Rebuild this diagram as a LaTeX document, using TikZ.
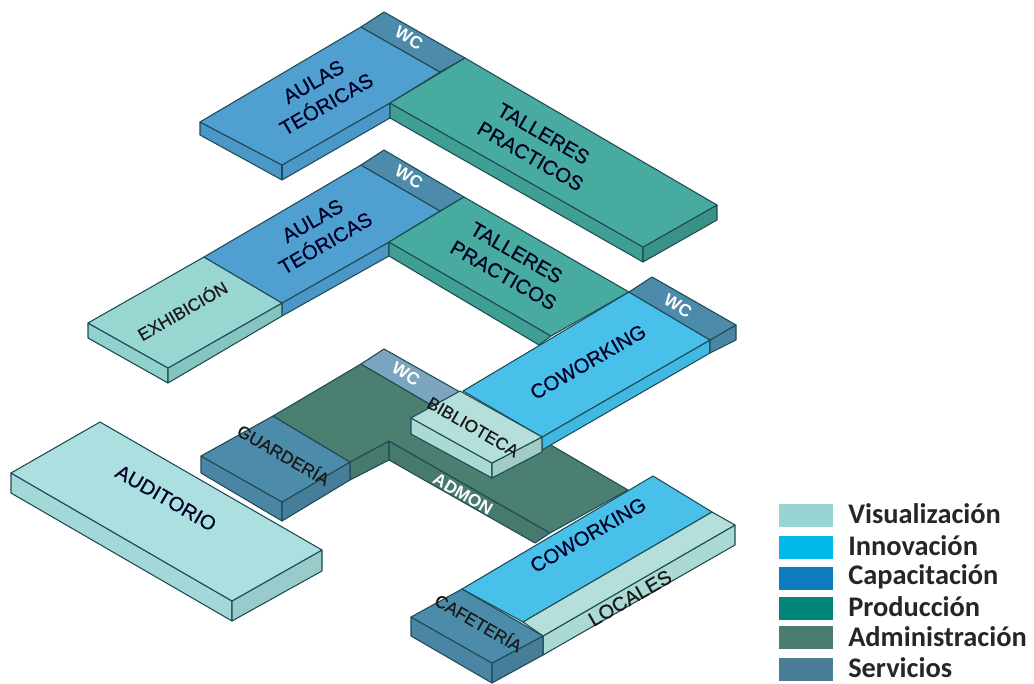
\documentclass[tikz,border=0pt]{standalone}
\usepackage{fontspec}
\setmainfont{Liberation Sans}
\newfontfamily\legendfont{Carlito}
\newfontfamily\medfont[FakeBold=0.5]{Liberation Sans}
\definecolor{eline}{HTML}{1E4B55}
\definecolor{aulaT}{HTML}{4F9FD0}
\definecolor{aulaS}{HTML}{4A97C8}
\definecolor{tallT}{HTML}{47AB9F}
\definecolor{tallS}{HTML}{3F9F93}
\definecolor{exhT}{HTML}{98D6D1}
\definecolor{exhS}{HTML}{8FD1CC}
\definecolor{cowT}{HTML}{48C0EA}
\definecolor{cowS}{HTML}{40B8E2}
\definecolor{wcT}{HTML}{4D8BAB}
\definecolor{wcS}{HTML}{4A85A3}
\definecolor{admT}{HTML}{4B7F72}
\definecolor{admS}{HTML}{47796C}
\definecolor{wcG}{HTML}{7CA6BF}
\definecolor{audT}{HTML}{ACDFE0}
\definecolor{audS}{HTML}{A3D8D8}
\definecolor{bibT}{HTML}{B4DFDA}
\definecolor{bibS}{HTML}{ABD9D3}
\definecolor{legA}{HTML}{97D4D2}
\definecolor{legB}{HTML}{00B9E8}
\definecolor{legC}{HTML}{107CC0}
\definecolor{legD}{HTML}{00877A}
\definecolor{legE}{HTML}{4A7C70}
\definecolor{legF}{HTML}{4A7E98}
\tikzset{
 face/.style={draw=eline,line width=0.8pt,line join=round},
 lab/.style={font=\medfont\fontsize{15.2}{19.5}\selectfont,align=center,text=black!85!blue,inner sep=0pt},
 labw/.style={font=\bfseries\fontsize{13}{14}\selectfont,text=white,inner sep=0pt},
 labs/.style={font=\medfont\fontsize{13}{15}\selectfont,text=black!90,inner sep=0pt},
 swatch/.style={minimum width=40.5pt,minimum height=16.8pt,inner sep=0pt,anchor=north west},
 legtext/.style={font=\legendfont\bfseries\fontsize{21.3}{22}\selectfont,text=black!85,anchor=west,inner sep=0pt}
}
\begin{document}
\begin{tikzpicture}[x=0.75pt,y=-0.75pt]
\useasboundingbox (0,0) rectangle (1034,684);
% --- Top level
\fill[face,fill=aulaS] (200,122)--(282,165)--(390,103)--(390,118)--(282,180)--(200,135)--cycle;
\draw[face] (282,165)--(282,180);
\fill[face,fill=tallS] (390,103)--(643,247)--(643,262)--(390,118)--cycle;
\fill[face,fill=tallS!92!black] (643,247)--(717,205)--(717,220)--(643,262)--cycle;
\fill[face,fill=aulaT] (200,122)--(361,27)--(440,72)--(390,103)--(282,165)--cycle;
\fill[face,fill=wcT] (361,27)--(384,12)--(465,58)--(440,72)--cycle;
\fill[face,fill=tallT] (390,103)--(465,58)--(717,205)--(643,247)--cycle;
\node[lab,rotate=30] (a3) at (320,93) {AULAS\\TEÓRICAS};
\node[lab,rotate=-30] (t3) at (537,145) {TALLERES\\PRACTICOS};
\node[labw,rotate=-30] (w3) at (409,38) {WC};
% --- Second level
\fill[face,fill=aulaS] (282,303)--(389,242)--(389,256)--(282,316)--cycle;
\fill[face,fill=exhS] (88,323)--(168,368)--(168,383)--(88,338)--cycle;
\fill[face,fill=exhS!94!black] (168,368)--(282,303)--(282,316)--(168,383)--cycle;
\fill[face,fill=tallS] (389,242)--(551,336)--(539,345)--(389,256)--cycle;
\fill[face,fill=exhT] (88,323)--(204,257)--(282,303)--(168,368)--cycle;
\fill[face,fill=aulaT] (204,257)--(361,165)--(440,211)--(389,242)--(282,303)--cycle;
\fill[face,fill=wcT] (361,165)--(384,150)--(464,197)--(440,211)--cycle;
\fill[face,fill=tallT] (389,242)--(464,197)--(629,292)--(551,336)--cycle;
\node[lab,rotate=30] (a2) at (319,232) {AULAS\\TEÓRICAS};
\node[lab,rotate=-30] (t2) at (510,264) {TALLERES\\PRACTICOS};
\node[labw,rotate=-30] (w2) at (409,177) {WC};
\node[labs,rotate=30] (ex) at (182,310) {EXHIBICIÓN};
% --- Ground: admin
\fill[face,fill=admS] (350,462)--(389,441)--(389,460)--(350,480)--cycle;
\fill[face,fill=admS] (389,441)--(550,533)--(535,543)--(389,460)--cycle;
\fill[face,fill=wcS] (201,456)--(282,502)--(282,521)--(201,473)--cycle;
\fill[face,fill=wcS!94!black] (282,502)--(350,462)--(350,480)--(282,521)--cycle;
\fill[face,fill=wcT] (201,456)--(273,416)--(350,462)--(282,502)--cycle;
\fill[face,fill=admT] (273,416)--(361,364)--(433,406)--(460,392)--(628,490)--(550,533)--(389,441)--(350,462)--cycle;
\fill[face,fill=wcG] (361,364)--(384,349)--(460,392)--(433,406)--cycle;
\node[labw,rotate=-30] (wg) at (406,374) {WC};
\node[labw,rotate=-30] (ad) at (463,494) {ADMON};
\node[labs,rotate=-30] (gu) at (284,454) {GUARDERÍA};
% --- Upper coworking
\fill[face,fill=cowS] (542,437)--(710,340)--(710,353)--(542,450)--cycle;
\fill[face,fill=wcS] (710,340)--(736,325)--(736,340)--(710,353)--cycle;
\fill[face,fill=cowT] (463,391)--(629,292)--(710,340)--(542,437)--cycle;
\fill[face,fill=wcT] (629,292)--(652,277)--(736,325)--(710,340)--cycle;
\node[lab,rotate=30] (c2) at (588,362) {COWORKING};
\node[labw,rotate=-30] (w4) at (678,306) {WC};
% --- Biblioteca
\fill[face,fill=bibS] (411,418)--(492,463)--(492,478)--(411,434)--cycle;
\fill[face,fill=bibS!94!black] (492,463)--(542,437)--(542,452)--(492,478)--cycle;
\fill[face,fill=bibT] (411,418)--(460,391)--(542,437)--(492,463)--cycle;
\node[labs,rotate=-30] (bi) at (473,427) {BIBLIOTECA};
% --- Lower coworking
\fill[face,fill=bibS] (543,636)--(735,525)--(735,545)--(543,655)--cycle;
\fill[face,fill=wcS] (411,617)--(492,663)--(492,683)--(411,636)--cycle;
\fill[face,fill=wcS!94!black] (492,663)--(543,636)--(543,655)--(492,683)--cycle;
\fill[face,fill=cowT] (462,589)--(653,476)--(712,512)--(523,622)--cycle;
\fill[face,fill=bibT] (523,622)--(712,512)--(735,525)--(543,636)--cycle;
\fill[face,fill=wcT] (411,617)--(462,589)--(543,636)--(492,663)--cycle;
\node[lab,rotate=30] (c1) at (588,535) {COWORKING};
\node[labs,rotate=30,font=\medfont\fontsize{15}{16}\selectfont] (lo) at (630,598) {LOCALES};
\node[labs,rotate=-30] (ca) at (479,622) {CAFETERÍA};
% --- Auditorio
\fill[face,fill=audS] (11,473)--(232,601)--(232,621)--(11,493)--cycle;
\fill[face,fill=audS!94!black] (232,601)--(322,550)--(322,571)--(232,621)--cycle;
\fill[face,fill=audT] (11,473)--(100,422)--(322,550)--(232,601)--cycle;
\node[lab,rotate=-30] (au) at (166,498) {AUDITORIO};
% --- Legend
\node[swatch,fill=legA] (s1) at (779,504) {};
\node[swatch,fill=legB] (s2) at (779,536) {};
\node[swatch,fill=legC] (s3) at (779,567) {};
\node[swatch,fill=legD] (s4) at (779,597) {};
\node[swatch,fill=legE] (s5) at (779,626) {};
\node[swatch,fill=legF] (s6) at (779,658) {};
\node[legtext] (l1) at (848,514) {Visualización};
\node[legtext] (l2) at (848,546) {Innovación};
\node[legtext] (l3) at (848,577) {Capacitación};
\node[legtext] (l4) at (848,607) {Producción};
\node[legtext] (l5) at (848,637) {Administración};
\node[legtext] (l6) at (848,668) {Servicios};
\end{tikzpicture}
\end{document}
